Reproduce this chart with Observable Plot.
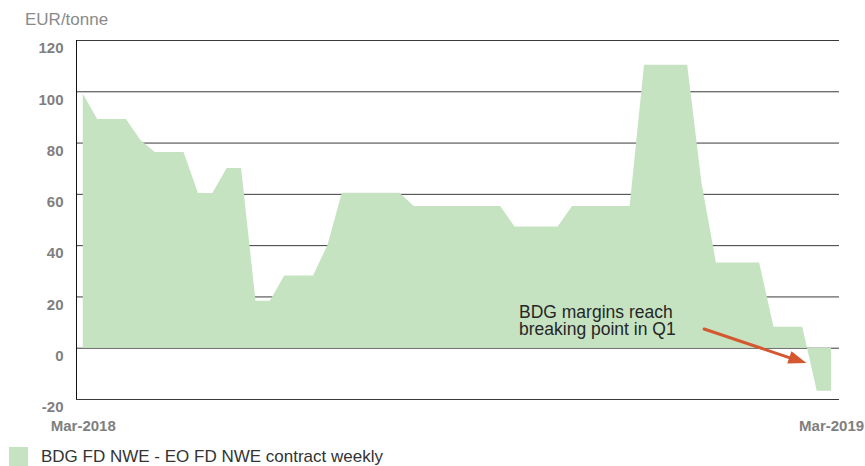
<!DOCTYPE html>
<html>
<head>
<meta charset="utf-8">
<script src="https://cdn.jsdelivr.net/npm/d3@7"></script>
<script src="https://cdn.jsdelivr.net/npm/@observablehq/plot@0.6"></script>
<style>
  body { margin: 0; background: #fff; font-family: "Liberation Sans", Arial, sans-serif; }
  #wrap { position: relative; width: 865px; height: 466px; overflow: hidden; background: #fff; }
  #title { position: absolute; left: 25px; top: 10.5px; font-size: 17px; line-height: 17px; color: #8a8a8a; white-space: nowrap; }
  #chart { position: absolute; left: 0; top: 30px; }
  #swatch { position: absolute; left: 9px; top: 447px; width: 19px; height: 19px; }
  #legtext { position: absolute; left: 41px; top: 447.8px; font-size: 17px; line-height: 17px; color: #333; white-space: nowrap; }
</style>
</head>
<body>
<div id="wrap">
  <div id="title"></div>
  <div id="chart"></div>
  <div id="swatch"></div>
  <div id="legtext"></div>
</div>
<script>
// ---- data ----
const weeks = [
  "2018-03-05","2018-03-12","2018-03-19","2018-03-26","2018-04-02","2018-04-09","2018-04-16","2018-04-23","2018-04-30",
  "2018-05-07","2018-05-14","2018-05-21","2018-05-28","2018-06-04","2018-06-11","2018-06-18","2018-06-25",
  "2018-07-02","2018-07-09","2018-07-16","2018-07-23","2018-07-30","2018-08-06","2018-08-13","2018-08-20","2018-08-27",
  "2018-09-03","2018-09-10","2018-09-17","2018-09-24","2018-10-01","2018-10-08","2018-10-15","2018-10-22","2018-10-29",
  "2018-11-05","2018-11-12","2018-11-19","2018-11-26","2018-12-03","2018-12-10","2018-12-17","2018-12-24","2018-12-31",
  "2019-01-07","2019-01-14","2019-01-21","2019-01-28","2019-02-04","2019-02-11","2019-02-18","2019-02-25","2019-03-04"
];
const margins = [
  99, 89.2, 89.2, 89.2, 81, 76.3, 76.3, 76.3, 60.3, 60.3,
  70.1, 70.1, 18.3, 18.3, 28.2, 28.2, 28.2, 40, 60.4, 60.4,
  60.4, 60.4, 60.4, 55.3, 55.3, 55.3, 55.3, 55.3, 55.3, 55.3,
  47.3, 47.3, 47.3, 47.3, 55.3, 55.3, 55.3, 55.3, 55.3, 110.3,
  110.3, 110.3, 110.3, 64, 33.2, 33.2, 33.2, 33.2, 8.2, 8.2,
  8.2, -16.8, -16.8
];
const yTicks = [120, 100, 80, 60, 40, 20, 0, -20];
const xTickDates = ["2018-03-05", "2019-03-04"];
const xTickLabels = ["Mar-2018", "Mar-2019"];
const seriesName = "BDG FD NWE - EO FD NWE contract weekly";
const unitLabel = "EUR/tonne";
const annotationLines = ["BDG margins reach", "breaking point in Q1"];
const annotationAt = ["2018-10-01", 10.7];
const arrowFrom = ["2019-01-01", 7.5];
const arrowTo = ["2019-02-20", -6];

const areaColor = "#c5e3c1";
const arrowColor = "#d4572f";

// ---- build ----
const parse = d3.utcParse("%Y-%m-%d");
const data = weeks.map((w, i) => ({date: parse(w), value: margins[i]}));
const first = data[0].date, last = data[data.length - 1].date;
const x0 = new Date(+first - 3.3 * 864e5);
const x1 = new Date(+last + 3.85 * 864e5);

document.getElementById("title").textContent = unitLabel;
document.getElementById("legtext").textContent = seriesName;
document.getElementById("swatch").style.background = areaColor;

const arrowData = [{
  xa: parse(arrowFrom[0]), ya: arrowFrom[1],
  xb: parse(arrowTo[0]), yb: arrowTo[1]
}];

const plot = Plot.plot({
  width: 865,
  height: 400,
  marginTop: 10,
  marginBottom: 31,
  marginLeft: 76,
  marginRight: 26,
  x: {type: "utc", domain: [x0, x1], axis: null},
  y: {domain: [-20, 120], axis: null},
  style: {fontFamily: "'Liberation Sans', Arial, sans-serif", background: "white", overflow: "visible"},
  marks: [
    Plot.ruleY(yTicks, {stroke: "#3a3a3a", strokeWidth: 1}),
    Plot.areaY(data, {x: "date", y1: 0, y2: "value", fill: areaColor, curve: "linear"}),
    Plot.ruleX([x0], {y1: -20, y2: 120, stroke: "#111", strokeWidth: 1}),
    Plot.text(yTicks, {
      y: d => d, frameAnchor: "left", dx: -13, dy: 8,
      text: d => String(d), textAnchor: "end", lineAnchor: "middle",
      fontSize: 15, fontWeight: "bold", fill: "#7f7f7f"
    }),
    Plot.text(xTickDates.map(parse), {
      x: d => d, frameAnchor: "bottom", dy: 26.5,
      text: (d, i) => xTickLabels[i], textAnchor: "middle", lineAnchor: "middle",
      fontSize: 15, fontWeight: "bold", fill: "#7f7f7f"
    }),
    Plot.text([annotationAt], {
      x: d => parse(d[0]), y: d => d[1], dx: 4,
      text: () => annotationLines.join("\n"), textAnchor: "start", lineAnchor: "middle",
      fontSize: 17.5, lineHeight: 1, fill: "#262626"
    }),
    Plot.arrow(arrowData, {
      x1: "xa", y1: "ya", x2: "xb", y2: "yb",
      stroke: arrowColor, strokeWidth: 3, headLength: 0, insetEnd: 14, bend: 0
    })
  ]
});

// filled arrow head, positioned with the plot's own scales
const sx = plot.scale("x"), sy = plot.scale("y");
const fx = sx.apply(parse(arrowFrom[0])), fy = sy.apply(arrowFrom[1]);
const tx = sx.apply(parse(arrowTo[0])), ty = sy.apply(arrowTo[1]);
const ang = Math.atan2(ty - fy, tx - fx);
const L = 18, W = 6.5;
const bx = tx - L * Math.cos(ang), by = ty - L * Math.sin(ang);
const p1 = [bx + W * Math.sin(ang), by - W * Math.cos(ang)];
const p2 = [bx - W * Math.sin(ang), by + W * Math.cos(ang)];
d3.select(plot).append("path")
  .attr("d", `M${tx},${ty}L${p1[0]},${p1[1]}L${p2[0]},${p2[1]}Z`)
  .attr("fill", arrowColor);

document.getElementById("chart").appendChild(plot);
</script>
</body>
</html>
